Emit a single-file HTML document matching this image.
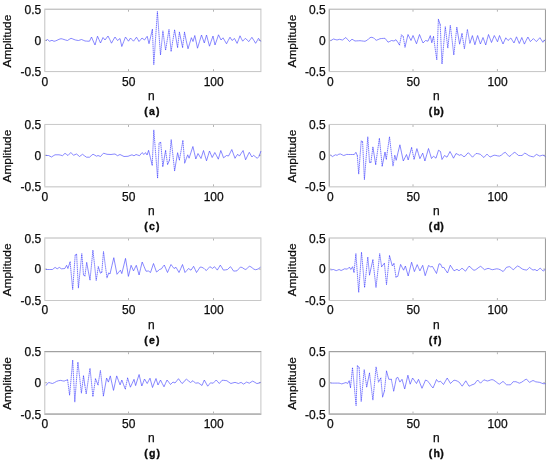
<!DOCTYPE html>
<html><head><meta charset="utf-8"><title>Figure</title>
<style>
html,body{margin:0;padding:0;background:#fff;}
svg{display:block;}
text{font-family:"Liberation Sans",Arial,sans-serif;fill:#0c0c0c;stroke:#0c0c0c;stroke-width:0.25;}
.t{font-size:12px;}
.b{font-size:12px;font-weight:bold;stroke-width:0.35;letter-spacing:1.4px;}
.ax{fill:none;stroke-width:1;}
.tk{stroke:#b4b4b4;stroke-width:1;}
.w{fill:none;stroke:#4848ff;stroke-width:0.65;stroke-linejoin:round;stroke-linecap:round;}
.s{stroke:#3030ff;stroke-dasharray:1.5 0.55;stroke-linecap:butt;}
</style></head><body>
<svg width="550" height="463" viewBox="0 0 550 463">
<rect width="550" height="463" fill="#fff"/>

<g id="pa">
<path class="ax" stroke="#adadad" d="M44.30 9.20H261.40"/>
<path class="ax" stroke="#c4c4c4" d="M44.30 71.60H261.40"/>
<path class="ax" stroke="#c1c1c1" d="M44.80 9.70V71.10"/>
<path class="ax" stroke="#c5c5c5" d="M260.90 9.70V71.10"/>
<path class="tk" d="M128.5 71.10v-2M128.5 9.70v2"/>
<path class="tk" d="M213.5 71.10v-2M213.5 9.70v2"/>
<path class="tk" d="M44.80 40.4h2.2M260.90 40.4h-2.2"/>
<path class="w" d="M46.3 40.3L47.5 39.5L49.5 41.2L52.0 40.3L54.0 41.3L55.5 40.9L57.0 40.3L59.0 39.3L61.0 38.7L62.5 39.0L64.0 39.5L65.8 40.1L67.5 40.5L69.2 39.4L71.0 38.3L72.5 38.8L74.0 39.5L75.5 40.0L77.0 40.3L78.5 40.5L80.0 40.0L81.5 39.5L83.2 40.2L85.0 41.0L86.5 41.1L88.0 41.2L89.5 41.2L91.5 37.0L93.2 41.0L95.0 45.0L97.5 36.2L99.0 39.6L100.5 43.0L103.0 37.5L105.0 40.0L106.5 38.0L108.0 36.0L109.8 39.6L111.5 43.2L113.2 40.1L115.0 37.0L117.5 40.5L120.0 38.5L121.8 46.5L123.7 41.7L125.5 37.0L127.0 39.1L128.5 41.2L130.5 38.0L132.0 39.6L133.5 41.2L135.0 39.2L136.5 37.2L139.0 41.5L140.5 39.8L142.0 38.0L144.5 40.0L145.8 38.1L147.2 36.3L149.0 43.7L150.7 36.6L152.4 29.4M174.6 30.1L176.1 38.8L177.6 47.4M179.4 32.2L181.0 39.8L182.6 47.4M184.5 32.2L186.2 40.5L188.0 48.8L189.7 43.3L191.4 37.7L193.0 41.5L194.8 35.5L196.2 41.9L197.5 48.2L199.5 41.6L201.5 35.0L202.9 39.0L204.3 43.0L206.5 35.0L208.0 40.6L209.5 46.2L211.2 41.1L213.0 36.0L215.0 45.0L216.8 39.9L218.5 34.8L221.0 40.0L223.0 37.8L224.8 40.8L226.5 43.8L228.2 40.5L230.0 37.2L232.0 40.5L234.5 38.5L237.1 43.4L238.6 39.6L240.0 35.8L241.3 38.5L242.7 41.2L244.1 39.7L245.4 38.3L247.1 40.0L248.8 41.6L250.4 39.4L251.9 37.3L253.8 40.3L255.6 43.3L257.1 40.8L258.5 38.3L260.5 41.2"/>
<path class="w s" d="M152.4 29.4L153.8 64.7L155.6 38.1L157.4 11.5L158.9 33.2L160.5 55.0L162.9 30.8L164.2 40.5L165.6 50.2L167.3 39.8L169.0 29.4L171.1 51.5L172.8 40.8L174.6 30.1M177.6 47.4L179.4 32.2M182.6 47.4L184.5 32.2"/>
<text class="t" text-anchor="end" x="41.2" y="13.8">0.5</text>
<text class="t" text-anchor="end" x="41.2" y="44.6">0</text>
<text class="t" text-anchor="end" x="41.2" y="76.1">-0.5</text>
<text class="t" text-anchor="middle" x="44.8" y="85.5">0</text>
<text class="t" text-anchor="middle" x="128.7" y="85.5">50</text>
<text class="t" text-anchor="middle" x="213.7" y="85.5">100</text>
<text class="t" text-anchor="middle" x="151.4" y="100.1">n</text>
<text class="b" transform="translate(144.20,114.9) scale(0.88,0.95)">(a)</text>
<text class="t" text-anchor="middle" transform="translate(11.2,41.1) rotate(-90) scale(0.99,0.88)">Amplitude</text>
</g>
<g id="pb">
<path class="ax" stroke="#adadad" d="M328.70 9.20H545.95"/>
<path class="ax" stroke="#c4c4c4" d="M328.70 71.60H545.95"/>
<path class="ax" stroke="#8d8d8d" d="M329.20 9.70V71.10"/>
<path class="ax" stroke="#989898" d="M545.45 9.70V71.10"/>
<path class="tk" d="M413.0 71.10v-2M413.0 9.70v2"/>
<path class="tk" d="M497.4 71.10v-2M497.4 9.70v2"/>
<path class="tk" d="M329.20 40.4h2.2M545.45 40.4h-2.2"/>
<path class="w" d="M331.0 40.5L333.5 39.0L335.2 39.5L337.0 40.0L339.5 39.3L341.0 39.7L342.5 40.0L344.1 38.8L345.8 37.5L347.6 39.5L349.5 41.5L352.0 39.2L353.5 40.1L355.0 41.0L356.7 40.9L358.3 40.8L360.0 40.7L361.7 40.9L363.3 41.1L365.0 41.3L367.5 40.0L369.2 38.3L371.0 37.2L373.5 37.8L374.9 39.2L376.2 40.3L378.1 39.6L380.0 38.7L381.7 38.5L383.3 38.4L385.0 38.3L386.5 40.2L388.0 42.2L389.8 41.4L391.5 40.5L394.0 41.0L396.0 39.7L397.8 42.3L399.5 45.0M401.5 34.8L403.2 36.5M405.0 47.2L406.5 40.8L408.0 34.5L409.5 37.5L411.0 40.5L413.0 35.5L414.8 39.7L416.5 43.8L418.0 39.2L419.5 34.5L421.2 38.8L423.0 43.0L425.5 40.5L428.0 41.2L430.3 35.6L431.8 42.8L433.5 36.5M438.4 19.3L440.2 24.6M456.8 27.4L458.2 35.8L459.6 44.2L462.0 33.6M469.9 43.3L472.4 35.6L474.9 44.8L476.2 40.2L477.6 35.5L479.0 39.8L480.4 44.0L481.7 40.8L483.0 37.5L484.4 41.3L485.7 45.0L487.1 39.7L488.5 34.5L490.0 38.5L491.5 42.5L492.9 39.0L494.3 35.5L495.9 38.6L497.5 41.8L499.5 35.5L501.2 39.8L503.0 44.0L504.4 40.9L505.8 37.8L508.0 40.5L509.4 39.3L510.8 38.0L512.4 40.5L514.0 43.0L516.5 36.8L517.9 40.2L519.3 43.5L521.8 37.5L523.1 40.8L524.4 44.1L526.1 40.5L527.9 37.0L530.4 41.6L531.9 40.1L533.4 38.6L534.9 40.1L536.4 41.6L538.1 39.7L539.9 37.7L541.4 40.0L542.9 42.3L545.1 39.9"/>
<path class="w s" d="M399.5 45.0L401.5 34.8M403.2 36.5L405.0 47.2M433.5 36.5L435.1 48.1L436.8 59.8L438.4 19.3M440.2 24.6L442.0 64.0L443.6 45.4L445.3 26.7L447.8 48.1L450.3 25.3L452.1 40.2L453.8 55.0L455.3 41.2L456.8 27.4M462.0 33.6L464.4 48.8L465.9 39.1L467.4 29.4L469.9 43.3"/>
<text class="t" text-anchor="end" x="325.7" y="13.8">0.5</text>
<text class="t" text-anchor="end" x="325.7" y="44.6">0</text>
<text class="t" text-anchor="end" x="325.7" y="76.1">-0.5</text>
<text class="t" text-anchor="middle" x="330.3" y="85.5">0</text>
<text class="t" text-anchor="middle" x="413.2" y="85.5">50</text>
<text class="t" text-anchor="middle" x="497.6" y="85.5">100</text>
<text class="t" text-anchor="middle" x="436.4" y="100.1">n</text>
<text class="b" transform="translate(428.85,114.9) scale(0.88,0.95)">(b<tspan dx="-1.14">)</tspan></text>
<text class="t" text-anchor="middle" transform="translate(295.7,41.1) rotate(-90) scale(0.99,0.88)">Amplitude</text>
</g>
<g id="pc">
<path class="ax" stroke="#c8c8c8" d="M44.30 124.45H261.40"/>
<path class="ax" stroke="#c0c0c0" d="M44.30 186.85H261.40"/>
<path class="ax" stroke="#c1c1c1" d="M44.80 124.95V186.35"/>
<path class="ax" stroke="#c5c5c5" d="M260.90 124.95V186.35"/>
<path class="tk" d="M128.5 186.35v-2M128.5 124.95v2"/>
<path class="tk" d="M213.5 186.35v-2M213.5 124.95v2"/>
<path class="tk" d="M44.80 155.3h2.2M260.90 155.3h-2.2"/>
<path class="w" d="M46.3 155.5L48.5 155.5L50.0 156.2L51.5 157.0L53.2 155.9L55.0 154.8L57.0 154.8L59.0 154.8L60.8 155.2L62.5 155.7L65.0 153.3L66.5 154.4L68.0 155.5L69.4 154.0L70.8 152.5L72.2 153.9L73.5 155.3L75.0 154.6L76.5 154.0L78.0 155.2L79.5 156.5L81.0 155.4L82.5 154.3L84.5 155.8L86.5 157.2L88.0 157.2L89.5 157.2L91.2 155.7L93.0 154.2L94.8 155.2L96.5 156.2L98.0 155.5L100.5 156.5L102.0 154.8L103.5 153.2L105.2 153.7L107.0 154.3L109.0 154.4L111.0 154.5L113.0 154.2L115.0 154.0L117.5 155.7L120.0 154.5L122.0 155.5L124.0 156.5L126.0 156.4L128.0 156.3L130.0 155.5L132.0 154.8L134.0 155.8L136.0 154.5L137.8 155.1L139.5 155.7L142.0 152.6L144.0 154.5L145.5 152.6L147.1 155.0L148.6 150.3L150.4 157.7L152.2 165.2M159.1 143.0L160.7 142.4M162.8 166.5L164.2 158.6L165.6 150.6M167.6 164.5L169.4 160.3M174.6 170.7L176.1 161.7L177.6 152.7L179.4 160.0M184.7 163.1L186.2 158.9L187.7 154.8L189.1 158.2L191.0 152.3L192.9 146.5L194.4 152.8L195.8 159.0L198.0 153.5L199.5 156.0L201.0 158.5L203.5 150.5L205.0 155.7L206.5 160.8L208.0 155.9L209.5 151.0L210.8 154.2L212.2 157.5L213.5 155.0L214.8 152.5L216.6 155.8L218.3 159.2L220.8 150.5L222.2 154.1L223.5 157.8L225.0 156.7L226.5 155.5L228.5 156.0L230.2 152.8L231.8 149.5L233.4 153.9L235.0 158.3L236.3 156.2L237.7 154.2L239.4 156.1L241.2 153.3L243.1 150.5L245.6 159.8L247.4 156.1L249.3 152.3L251.9 157.0L253.6 155.3L255.4 156.8L257.3 158.3L259.1 156.3L260.8 151.4"/>
<path class="w s" d="M152.2 165.2L153.8 129.9L155.7 154.1L157.6 178.3L159.1 143.0M160.7 142.4L162.8 166.5M165.6 150.6L167.6 164.5M169.4 160.3L171.2 139.6L172.9 155.1L174.6 170.7M179.4 160.0L181.2 150.2L182.9 140.3L184.7 163.1"/>
<text class="t" text-anchor="end" x="41.2" y="128.7">0.5</text>
<text class="t" text-anchor="end" x="41.2" y="159.6">0</text>
<text class="t" text-anchor="end" x="41.2" y="191.1">-0.5</text>
<text class="t" text-anchor="middle" x="44.8" y="200.5">0</text>
<text class="t" text-anchor="middle" x="128.7" y="200.5">50</text>
<text class="t" text-anchor="middle" x="213.7" y="200.5">100</text>
<text class="t" text-anchor="middle" x="151.4" y="215.1">n</text>
<text class="b" transform="translate(144.20,229.5) scale(0.88,0.95)">(c)</text>
<text class="t" text-anchor="middle" transform="translate(11.2,156.1) rotate(-90) scale(0.99,0.88)">Amplitude</text>
</g>
<g id="pd">
<path class="ax" stroke="#c8c8c8" d="M328.70 124.45H545.95"/>
<path class="ax" stroke="#c0c0c0" d="M328.70 186.85H545.95"/>
<path class="ax" stroke="#8d8d8d" d="M329.20 124.95V186.35"/>
<path class="ax" stroke="#989898" d="M545.45 124.95V186.35"/>
<path class="tk" d="M413.0 186.35v-2M413.0 124.95v2"/>
<path class="tk" d="M497.4 186.35v-2M497.4 124.95v2"/>
<path class="tk" d="M329.20 155.3h2.2M545.45 155.3h-2.2"/>
<path class="w" d="M330.9 155.2L332.3 156.6L333.9 155.7L335.4 154.8L337.1 155.3L338.8 154.2L340.6 154.0L342.1 154.8L343.7 155.5L345.2 155.0L346.7 154.4L348.7 154.5L350.6 154.5L352.4 154.5L354.3 154.5L355.9 152.3L357.3 155.5M361.2 141.0L362.6 141.7M369.5 162.4L370.9 162.4M372.9 147.2L374.3 155.8L375.7 164.5M382.2 166.1L383.6 159.0L385.0 152.0L386.3 159.2M394.8 155.5L396.2 160.3L398.0 152.6L399.9 144.8L401.6 152.9L403.3 161.0L404.9 157.8L406.5 154.5L408.2 160.0L409.9 153.8L411.6 147.6M414.1 159.2L415.5 153.9L416.9 148.6L418.4 153.6L419.9 158.7L421.3 155.9L422.7 153.1L424.9 161.0L426.7 154.8L428.5 148.5L430.0 153.5L431.5 158.5L433.5 156.2L436.0 158.2L438.5 150.2L440.5 151.5L442.0 159.5L444.5 155.5L447.0 157.2L448.5 154.4L450.0 151.5L451.8 154.8L453.5 158.2L456.0 153.5L457.8 154.4L459.5 155.3L461.0 154.5L462.5 155.6L464.0 156.8L465.5 155.8L467.0 153.8L468.5 152.8L470.5 155.0L472.5 157.2L474.2 155.4L476.0 153.5L477.5 153.6L479.0 153.9L480.5 154.4L482.2 156.1L483.9 157.5L485.4 155.8L487.0 154.1L488.5 155.6L490.0 157.1L492.1 156.1L494.1 155.2L495.9 155.4L497.7 155.9L499.5 156.1L501.4 155.1L503.4 153.3L505.3 152.3L507.2 154.4L509.1 156.5L511.0 155.4L512.9 153.4L514.8 152.3L516.7 153.9L518.6 155.5L520.3 155.5L522.0 155.5L523.4 154.3L524.8 153.1L526.8 154.2L528.9 155.7L530.5 156.2L532.0 156.6L533.6 156.8L535.0 155.6L536.4 154.4L538.1 155.2L539.8 156.1L541.1 155.6L542.5 155.2L543.9 155.5L545.2 156.5"/>
<path class="w s" d="M357.3 155.5L358.7 174.1L361.2 141.0M362.6 141.7L364.4 179.7L366.1 158.2L367.8 136.8L369.5 162.4M370.9 162.4L372.9 147.2M375.7 164.5L377.5 151.4L379.4 138.2L380.8 152.1L382.2 166.1M386.3 159.2L387.9 148.0L389.5 136.8L391.2 151.5L393.0 166.1L394.8 155.5M411.6 147.6L414.1 159.2"/>
<text class="t" text-anchor="end" x="325.7" y="128.7">0.5</text>
<text class="t" text-anchor="end" x="325.7" y="159.6">0</text>
<text class="t" text-anchor="end" x="325.7" y="191.1">-0.5</text>
<text class="t" text-anchor="middle" x="330.3" y="200.5">0</text>
<text class="t" text-anchor="middle" x="413.2" y="200.5">50</text>
<text class="t" text-anchor="middle" x="497.6" y="200.5">100</text>
<text class="t" text-anchor="middle" x="436.4" y="215.1">n</text>
<text class="b" transform="translate(428.85,229.5) scale(0.88,0.95)">(d<tspan dx="-1.14">)</tspan></text>
<text class="t" text-anchor="middle" transform="translate(295.7,156.1) rotate(-90) scale(0.99,0.88)">Amplitude</text>
</g>
<g id="pe">
<path class="ax" stroke="#b8b8b8" d="M44.30 238.00H261.40"/>
<path class="ax" stroke="#c8c8c8" d="M44.30 300.50H261.40"/>
<path class="ax" stroke="#c1c1c1" d="M44.80 238.50V300.00"/>
<path class="ax" stroke="#c5c5c5" d="M260.90 238.50V300.00"/>
<path class="tk" d="M128.5 300.00v-2M128.5 238.50v2"/>
<path class="tk" d="M213.5 300.00v-2M213.5 238.50v2"/>
<path class="tk" d="M44.80 269.1h2.2M260.90 269.1h-2.2"/>
<path class="w" d="M46.3 269.5L47.8 269.5L49.3 269.5L50.9 269.5L52.4 269.5L53.8 268.4L55.1 267.4L57.2 268.8L59.3 267.4L61.4 268.8L63.1 268.7L64.8 268.5L66.6 265.3L67.9 268.5L70.1 261.9M75.2 255.0L76.6 254.3M83.5 275.0L84.9 276.0M86.7 262.6L88.3 271.2L90.0 279.9M98.3 266.7L100.4 273.2L101.8 272.3M107.0 277.8L108.7 272.9L110.0 274.0L111.9 265.8L113.8 257.7L115.4 266.0L117.0 274.3L118.7 272.2L120.4 270.2L121.8 273.6L123.7 266.0L125.5 258.4L127.0 267.4L128.4 276.4L129.8 270.8L131.1 265.3L133.5 270.9L134.9 268.1L136.3 265.3L137.7 270.1L139.1 275.0L140.6 268.5L142.2 262.0L144.1 266.6L146.0 271.2L148.5 271.0L150.5 272.5L152.0 268.0L153.5 263.5L155.0 267.8L156.5 272.0L158.0 270.9L159.5 269.5L161.5 268.8L162.9 266.7L164.3 265.0L165.9 268.8L167.5 272.5L169.2 268.5L171.0 264.5L172.5 266.5L174.0 268.5L176.0 267.3L177.5 269.9L179.0 272.5L180.8 268.5L182.5 264.5L185.0 272.5L186.8 270.5L188.5 268.5L191.0 270.2L193.6 266.3L195.1 269.4L196.5 272.5L198.3 269.8L200.2 267.0L201.9 267.3L203.6 268.1L205.0 269.5L206.4 270.5L208.1 268.6L209.8 266.7L211.2 267.5L212.5 268.4L214.5 266.7L215.9 268.4L217.3 270.1L218.8 267.6L220.3 265.1L221.9 267.6L223.4 270.1L225.4 269.9L227.5 269.5L229.0 268.0L230.5 266.7L232.1 268.9L233.6 271.1L235.3 271.0L237.0 270.8L238.8 268.8L240.5 267.0L242.3 267.6L244.1 268.9L245.9 269.5L247.6 267.9L249.3 266.3L250.9 266.8L252.4 268.0L253.9 269.2L255.5 269.7L257.1 269.4L258.6 268.6L260.2 267.4"/>
<path class="w s" d="M70.1 261.9L71.4 275.7L72.7 289.5L75.2 255.0M76.6 254.3L78.4 288.1L80.1 270.9L81.8 253.6L83.5 275.0M84.9 276.0L86.7 262.6M90.0 279.9L91.5 265.0L92.9 250.1L94.6 265.3L96.2 280.5L98.3 266.7M101.8 272.3L103.5 251.5L105.2 264.7L107.0 277.8"/>
<text class="t" text-anchor="end" x="41.2" y="242.6">0.5</text>
<text class="t" text-anchor="end" x="41.2" y="273.4">0</text>
<text class="t" text-anchor="end" x="41.2" y="304.7">-0.5</text>
<text class="t" text-anchor="middle" x="44.8" y="314.1">0</text>
<text class="t" text-anchor="middle" x="128.7" y="314.1">50</text>
<text class="t" text-anchor="middle" x="213.7" y="314.1">100</text>
<text class="t" text-anchor="middle" x="151.4" y="328.6">n</text>
<text class="b" transform="translate(144.20,343.8) scale(0.88,0.95)">(e)</text>
<text class="t" text-anchor="middle" transform="translate(11.2,269.9) rotate(-90) scale(0.99,0.88)">Amplitude</text>
</g>
<g id="pf">
<path class="ax" stroke="#b8b8b8" d="M328.70 238.00H545.95"/>
<path class="ax" stroke="#c8c8c8" d="M328.70 300.50H545.95"/>
<path class="ax" stroke="#8d8d8d" d="M329.20 238.50V300.00"/>
<path class="ax" stroke="#989898" d="M545.45 238.50V300.00"/>
<path class="tk" d="M413.0 300.00v-2M413.0 238.50v2"/>
<path class="tk" d="M497.4 300.00v-2M497.4 238.50v2"/>
<path class="tk" d="M329.20 269.1h2.2M545.45 269.1h-2.2"/>
<path class="w" d="M331.0 269.9L333.5 269.5L334.9 270.1L336.3 270.6L337.7 270.1L339.1 269.5L341.1 270.5L342.9 269.7L344.6 268.8L346.0 269.0L347.4 269.1L349.4 267.1L350.8 269.5L352.6 266.7L354.0 272.3M369.5 275.0L371.2 267.4L372.9 259.8M381.6 266.7L383.0 265.0L384.4 263.3M389.5 255.7L390.9 260.8L392.3 266.0L393.9 263.5M396.0 277.1L397.8 276.4L399.2 270.2L400.6 264.4L402.1 267.3L403.6 270.2L405.4 266.0L406.8 271.0L408.2 276.0L409.9 269.1L411.6 262.2L413.0 266.9L414.4 271.6L415.8 268.1L417.2 264.6L418.5 267.7L419.9 270.9L421.3 268.1L422.7 265.3L425.2 275.7L426.9 270.6L428.5 265.5L430.5 266.8L432.5 266.5L434.5 270.0L436.5 273.5L439.0 263.8L440.5 264.0L442.5 268.0L443.5 267.0L445.5 270.0L447.5 273.0L448.9 269.1L450.3 265.2L452.1 268.0L454.0 270.8L455.5 270.1L457.0 269.3L459.0 270.8L460.5 269.5L462.0 268.2L463.8 269.7L465.5 271.2L467.2 268.7L469.0 266.2L470.7 267.3L472.3 269.2L474.0 270.3L475.5 269.8L477.0 268.8L478.9 267.3L480.7 266.3L482.6 268.0L484.5 269.7L486.2 269.0L488.0 268.4L489.6 268.7L491.1 269.4L492.7 269.7L494.8 269.2L496.8 268.8L498.5 269.1L500.2 269.7L501.7 270.7L503.2 271.5L504.8 269.6L506.4 267.4L508.1 266.9L509.8 266.7L511.5 268.2L513.2 269.7L514.6 268.7L516.1 267.0L517.5 266.0L519.2 266.7L521.0 268.1L522.7 269.2L524.8 269.8L526.8 270.1L528.1 268.8L529.5 267.4L531.2 268.8L533.0 270.1L535.0 269.5L537.0 270.8L538.6 269.5L540.2 268.1L541.7 269.6L543.2 271.1L545.2 269.5"/>
<path class="w s" d="M354.0 272.3L355.9 253.6L357.3 272.9L358.7 292.3L360.1 272.2L361.5 252.2L363.1 269.9L364.6 287.5L366.2 272.2L367.8 257.0L369.5 275.0M372.9 259.8L374.4 273.6L376.0 287.5L377.9 270.5L379.7 253.6L381.6 266.7M384.4 263.3L386.5 284.7L388.0 270.2L389.5 255.7M393.9 263.5L396.0 277.1"/>
<text class="t" text-anchor="end" x="325.7" y="242.6">0.5</text>
<text class="t" text-anchor="end" x="325.7" y="273.4">0</text>
<text class="t" text-anchor="end" x="325.7" y="304.7">-0.5</text>
<text class="t" text-anchor="middle" x="330.3" y="314.1">0</text>
<text class="t" text-anchor="middle" x="413.2" y="314.1">50</text>
<text class="t" text-anchor="middle" x="497.6" y="314.1">100</text>
<text class="t" text-anchor="middle" x="436.4" y="328.6">n</text>
<text class="b" transform="translate(428.85,343.8) scale(0.88,0.95)">(f<tspan dx="-0.5">)</tspan></text>
<text class="t" text-anchor="middle" transform="translate(295.7,269.9) rotate(-90) scale(0.99,0.88)">Amplitude</text>
</g>
<g id="pg">
<path class="ax" stroke="#8c8c8c" d="M44.30 351.70H261.40"/>
<path class="ax" stroke="#7a7a7a" d="M44.30 414.05H261.40"/>
<path class="ax" stroke="#c1c1c1" d="M44.80 352.20V413.55"/>
<path class="ax" stroke="#c5c5c5" d="M260.90 352.20V413.55"/>
<path class="tk" d="M128.5 413.55v-2M128.5 352.20v2"/>
<path class="tk" d="M213.5 413.55v-2M213.5 352.20v2"/>
<path class="tk" d="M44.80 382.7h2.2M260.90 382.7h-2.2"/>
<path class="w" d="M46.3 385.2L47.6 383.3L48.9 382.5L50.6 383.0L52.4 383.5L54.5 382.6L56.5 381.4L58.6 380.7L60.7 380.4L62.4 380.8L64.1 381.1L65.8 380.4L67.6 379.8M83.5 375.9L84.8 384.9M95.5 378.8L98.0 384.9M103.4 395.9L105.0 387.0L106.6 378.0L108.4 382.1L110.3 375.9L111.9 383.2L113.5 390.4L115.1 383.2L116.7 375.9L118.4 380.4L120.1 384.9L121.8 380.0L123.5 384.5L125.3 389.0M127.6 378.0L129.0 382.6L130.4 387.2L132.2 383.3L134.0 379.3L135.6 385.6L137.3 380.0L139.1 374.5L140.4 380.2L141.8 386.0L143.2 382.5L144.5 379.0L145.8 381.2L147.2 383.5L148.6 380.8L150.0 378.2L152.5 387.5L154.2 383.0L156.0 378.5L158.0 385.0L160.5 380.0L162.2 383.4L164.0 386.8L165.5 383.4L167.0 380.0L168.8 382.2L170.5 384.5L173.0 382.0L175.0 383.0L176.8 380.8L178.5 378.7L180.2 381.1L182.0 383.5L183.5 382.4L185.0 380.3L186.5 379.2L188.5 380.9L190.5 382.5L193.0 380.7L195.5 383.2L196.8 383.0L198.2 382.8L200.1 384.1L202.0 385.5L204.3 380.0L206.0 383.1L207.7 386.2L209.1 384.5L210.5 382.8L211.8 383.0L213.2 383.2L214.7 381.6L216.2 380.0L217.8 381.8L219.3 383.5L220.7 381.9L222.0 380.3L223.6 380.3L225.2 380.5L226.8 380.7L228.9 382.2L230.9 383.5L232.9 382.9L235.0 382.4L236.7 382.9L238.4 383.5L239.8 382.9L241.1 382.4L243.5 384.1L245.1 383.1L246.6 382.1L247.9 382.6L249.3 383.2L251.0 382.1L252.7 381.1L254.8 382.3L256.8 383.5L258.5 383.3L260.2 382.5"/>
<path class="w s" d="M67.6 379.8L69.6 395.2L71.2 377.6L72.7 360.0L74.8 402.1L76.3 382.1L77.9 362.1L79.7 377.7L81.4 393.2L83.5 375.9M84.8 384.9L86.2 393.9L88.1 381.1L90.0 368.3L91.5 382.5L92.9 396.6L95.5 378.8M98.0 384.9L100.4 370.4L101.9 383.1L103.4 395.9M125.3 389.0L127.6 378.0"/>
<text class="t" text-anchor="end" x="41.2" y="356.1">0.5</text>
<text class="t" text-anchor="end" x="41.2" y="387.0">0</text>
<text class="t" text-anchor="end" x="41.2" y="418.5">-0.5</text>
<text class="t" text-anchor="middle" x="44.8" y="427.9">0</text>
<text class="t" text-anchor="middle" x="128.7" y="427.9">50</text>
<text class="t" text-anchor="middle" x="213.7" y="427.9">100</text>
<text class="t" text-anchor="middle" x="151.4" y="442.3">n</text>
<text class="b" transform="translate(144.20,457.0) scale(0.88,0.95)">(g<tspan dx="-0.2">)</tspan></text>
<text class="t" text-anchor="middle" transform="translate(11.2,383.5) rotate(-90) scale(0.99,0.88)">Amplitude</text>
</g>
<g id="ph">
<path class="ax" stroke="#8c8c8c" d="M328.70 351.70H545.95"/>
<path class="ax" stroke="#7a7a7a" d="M328.70 414.05H545.95"/>
<path class="ax" stroke="#8d8d8d" d="M329.20 352.20V413.55"/>
<path class="ax" stroke="#989898" d="M545.45 352.20V413.55"/>
<path class="tk" d="M413.0 413.55v-2M413.0 352.20v2"/>
<path class="tk" d="M497.4 413.55v-2M497.4 352.20v2"/>
<path class="tk" d="M329.20 382.7h2.2M545.45 382.7h-2.2"/>
<path class="w" d="M331.0 383.1L332.6 383.1L334.2 383.1L335.9 383.1L337.5 383.1L339.1 383.1L340.5 383.5L341.8 383.9L343.9 383.2L346.0 382.5L347.6 383.5L349.2 380.7L350.5 387.6M357.4 365.5L359.1 367.6M366.7 386.9L368.1 380.0L369.5 373.1M378.5 382.1L380.8 378.0M382.6 397.0L384.4 391.1M386.5 371.0L388.8 379.3L391.3 379.3M393.7 391.1L395.0 384.8L396.4 378.0L397.8 377.3L399.9 382.1L402.0 379.3L403.4 384.2L404.7 389.0L406.3 382.1L407.9 375.2L410.2 384.2L412.6 378.0L414.6 380.8L416.5 383.5L418.5 379.3L420.2 383.8L422.0 388.3L423.8 384.1L425.5 380.0L427.2 380.8L429.0 382.5L431.0 385.7L433.0 388.0L434.8 383.8L436.5 379.5L438.5 382.0L440.5 381.2L442.0 382.9L443.5 384.5L445.4 381.2L447.2 378.0L448.9 380.8L450.5 383.5L452.2 381.8L454.0 380.2L455.8 380.5L457.7 381.3L459.5 382.5L460.9 384.6L462.2 386.2L464.0 383.5L465.8 380.8L467.4 383.5L469.0 386.2L470.5 385.6L472.0 384.8L474.5 384.0L476.1 381.8L477.7 380.0L479.1 381.6L480.5 383.2L482.2 381.5L483.9 379.8L485.6 380.4L487.3 381.0L488.9 380.6L490.4 380.0L492.0 379.6L493.6 380.1L495.2 381.2L496.8 382.4L498.1 383.5L499.5 384.1L501.2 382.8L503.0 381.4L504.8 383.1L506.6 384.8L508.6 384.8L510.5 384.8L511.9 383.2L513.2 381.7L514.5 381.7L515.9 381.7L517.6 382.4L519.3 383.2L521.3 382.4L523.4 381.0L525.0 379.8L526.5 379.1L528.0 380.8L529.5 382.4L531.2 381.4L533.0 380.5L534.4 381.1L535.7 381.8L537.8 382.1L539.8 382.4L541.5 383.1L543.2 383.7L545.2 383.7"/>
<path class="w s" d="M350.5 387.6L352.5 367.6L354.3 386.6L356.1 405.6L357.4 365.5M359.1 367.6L361.2 401.5L362.7 385.6L364.2 369.7L366.7 386.9M369.5 373.1L371.2 386.6L372.9 400.1L374.5 383.5L376.1 366.9L378.5 382.1M380.8 378.0L382.6 397.0M384.4 391.1L386.5 371.0M391.3 379.3L393.7 391.1"/>
<text class="t" text-anchor="end" x="325.7" y="356.1">0.5</text>
<text class="t" text-anchor="end" x="325.7" y="387.0">0</text>
<text class="t" text-anchor="end" x="325.7" y="418.5">-0.5</text>
<text class="t" text-anchor="middle" x="330.3" y="427.9">0</text>
<text class="t" text-anchor="middle" x="413.2" y="427.9">50</text>
<text class="t" text-anchor="middle" x="497.6" y="427.9">100</text>
<text class="t" text-anchor="middle" x="436.4" y="442.3">n</text>
<text class="b" transform="translate(428.85,457.0) scale(0.88,0.95)">(h<tspan dx="-1.14">)</tspan></text>
<text class="t" text-anchor="middle" transform="translate(295.7,383.5) rotate(-90) scale(0.99,0.88)">Amplitude</text>
</g>
</svg></body></html>
